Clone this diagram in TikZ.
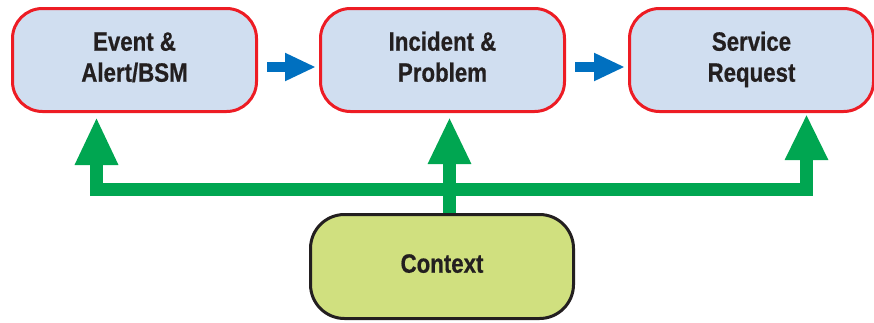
\documentclass[tikz,border=0pt]{standalone}
\usepackage{fontspec}
\setmainfont{Liberation Sans}[FakeStretch=0.84, BoldFeatures={FakeBold=0.6}]
\usetikzlibrary{arrows.meta}
\definecolor{boxfill}{RGB}{208,222,240}
\definecolor{boxred}{RGB}{237,28,36}
\definecolor{arrblue}{RGB}{0,112,192}
\definecolor{arrgreen}{RGB}{0,166,81}
\definecolor{ctxfill}{RGB}{208,224,127}
\definecolor{darktext}{RGB}{35,31,32}
\newcommand{\lift}[2]{\raisebox{#1}{\begin{tabular}{@{}c@{}}#2\end{tabular}}}
\tikzset{
  procbox/.style={draw=boxred, fill=boxfill, line width=3pt, rounded corners=30pt,
    minimum width=244pt, minimum height=103pt, inner sep=0pt,
    text=darktext, font=\fontsize{26.5}{31}\selectfont\bfseries},
  ctxbox/.style={draw=darktext, fill=ctxfill, line width=3pt, rounded corners=34pt,
    minimum width=263pt, minimum height=104pt, inner sep=0pt,
    text=darktext, font=\fontsize{26.5}{31}\selectfont\bfseries},
  bluearrow/.style={draw=arrblue, line width=10pt, -{Triangle[length=31pt,width=26pt]}},
  greenarrow/.style={draw=arrgreen, line width=13pt, line join=miter}
}
\begin{document}
\begin{tikzpicture}[x=1pt,y=-1pt]
\useasboundingbox (0,0) rectangle (874,322);
\node[procbox] (b1) at (134.5,60) {\lift{3pt}{Event \&\\Alert/BSM}};
\node[procbox] (b2) at (442.5,60) {\lift{3pt}{Incident \&\\Problem}};
\node[procbox] (b3) at (751.5,60) {\lift{3pt}{Service\\Request}};
\node[ctxbox] (ctx) at (442,266.5) {\lift{4pt}{Context}};
\coordinate (L) at (96.5,189.5);
\coordinate (R) at (806.5,189.5);
\coordinate (S) at (449.5,189.5);
\draw[bluearrow, shorten <=9pt, shorten >=3pt] ([yshift=-7pt]b1.east) -- ([yshift=-7pt]b2.west);
\draw[bluearrow, shorten <=9pt, shorten >=3pt] ([yshift=-7pt]b2.east) -- ([yshift=-7pt]b3.west);
\draw[greenarrow, {Triangle[length=48pt,width=40pt]}-{Triangle[length=46pt,width=40pt]},
  shorten <=4pt, shorten >=1pt] (b1.south -| L) -- (L) -- (R) -- (b3.south -| R);
\draw[greenarrow, -{Triangle[length=47pt,width=40pt]}, shorten >=4pt] (ctx.north -| S) -- (b2.south -| S);
\end{tikzpicture}
\end{document}
